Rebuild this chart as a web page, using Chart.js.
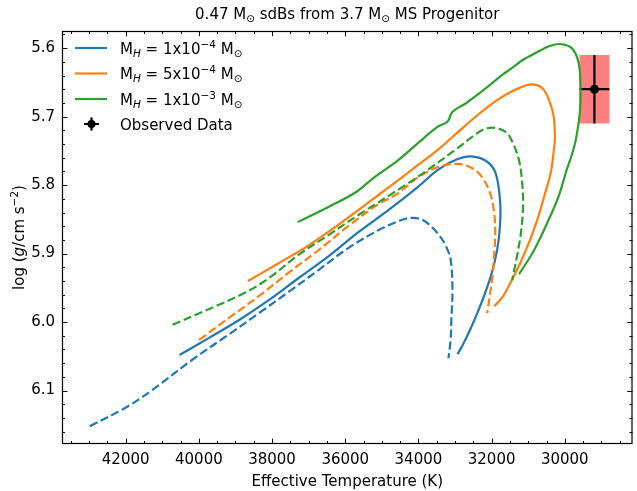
<!DOCTYPE html>
<html><head><meta charset="utf-8">
<script src="https://cdn.jsdelivr.net/npm/chart.js@4/dist/chart.umd.min.js"></script>
<style>html,body{margin:0;padding:0;background:#fff}#wrap{width:637px;height:491px;position:relative}</style>
</head><body><div id="wrap"><canvas id="c"></canvas></div>
<script>
// ---------- data ----------
const xTicks = [30000, 32000, 34000, 36000, 38000, 40000, 42000];
const yTicks = [5.6, 5.7, 5.8, 5.9, 6.0, 6.1];

const legendCoef = ['1x10', '5x10', '1x10'];
const legendExp = ['\u22124', '\u22124', '\u22123'];
const obsLabel = 'Observed Data';
const xTitle = 'Effective Temperature (K)';

// M_H = 1e-4 (blue)
const blueSolidTeff = [40530, 39720, 38900, 38090, 37280, 36460, 35650, 34830, 34020, 33480, 32930, 32580, 32170, 31900, 31770, 31770, 31850, 32010, 32230, 32470, 32720, 32930];
const blueSolidLogg = [6.048, 6.023, 5.997, 5.968, 5.936, 5.904, 5.869, 5.837, 5.803, 5.778, 5.762, 5.758, 5.764, 5.781, 5.822, 5.858, 5.895, 5.931, 5.965, 5.997, 6.026, 6.047];
const blueDashTeff = [42980, 41970, 41270, 40180, 39180, 38360, 37550, 36730, 35920, 35100, 34560, 34240, 33880, 33480, 33260, 33120, 33070, 33100, 33120, 33180];
const blueDashLogg = [6.152, 6.124, 6.099, 6.055, 6.018, 5.987, 5.956, 5.924, 5.892, 5.866, 5.853, 5.848, 5.851, 5.870, 5.888, 5.909, 5.953, 5.997, 6.026, 6.053];

// M_H = 5e-4 (orange)
const orangeSolidTeff = [38660, 37820, 37000, 36190, 35380, 34560, 34020, 33480, 32930, 32390, 31850, 31440, 31030, 30760, 30570, 30410, 30300, 30270, 30300, 30380, 30540, 30730, 30950, 31220, 31490, 31710, 31930];
const orangeSolidLogg = [5.940, 5.914, 5.888, 5.858, 5.826, 5.793, 5.771, 5.749, 5.723, 5.698, 5.676, 5.663, 5.654, 5.654, 5.661, 5.679, 5.701, 5.734, 5.749, 5.781, 5.812, 5.847, 5.880, 5.914, 5.943, 5.964, 5.977];
const orangeDashTeff = [39990, 39180, 38360, 37550, 36730, 35920, 35100, 34560, 34020, 33480, 33010, 32660, 32310, 32040, 31930, 31900, 31930, 31980, 32120];
const orangeDashLogg = [6.026, 5.994, 5.962, 5.928, 5.895, 5.860, 5.828, 5.812, 5.789, 5.774, 5.769, 5.772, 5.785, 5.812, 5.841, 5.870, 5.902, 5.934, 5.987];

// M_H = 1e-3 (green)
const greenSolidTeff = [37300, 36460, 35700, 35240, 34560, 34020, 33480, 33200, 33070, 32660, 32120, 31710, 31440, 31170, 30760, 30410, 30140, 29810, 29620, 29570, 29590, 29700, 29810, 29950, 30160, 30410, 30840, 31250];
const greenSolidLogg = [5.854, 5.832, 5.810, 5.790, 5.764, 5.739, 5.715, 5.707, 5.693, 5.679, 5.657, 5.639, 5.629, 5.618, 5.606, 5.597, 5.594, 5.600, 5.622, 5.661, 5.695, 5.734, 5.756, 5.778, 5.815, 5.847, 5.895, 5.930];
const greenDashTeff = [40720, 38770, 38090, 37280, 36460, 35650, 34560, 33750, 32930, 32390, 32120, 31850, 31580, 31390, 31250, 31170, 31140, 31190, 31300, 31440];
const greenDashLogg = [6.004, 5.958, 5.936, 5.902, 5.873, 5.844, 5.807, 5.778, 5.746, 5.724, 5.717, 5.717, 5.724, 5.742, 5.764, 5.793, 5.829, 5.866, 5.902, 5.939];

// observed
const obsTeff = [29190];
const obsLogg = [5.660];
const obsTeffErr = [410];
const obsLoggErr = [0.05];

// ---------- styles ----------
const COLORS = ['#1f77b4', '#ff7f0e', '#2ca02c'];
const FAM = '"DejaVu Sans", sans-serif';
const FS = 15;
function fnt(size, it) { return (it ? 'italic ' : '') + size + 'px ' + FAM; }

function pts(T, G) { return T.map((t, i) => ({x: t, y: G[i]})); }
function mk(T, G, color, dash) {
  return {data: pts(T, G), showLine: true, borderColor: color, backgroundColor: color,
    borderWidth: 2.2, borderDash: dash ? [8.4, 3.6] : [], pointRadius: 0, pointHoverRadius: 0,
    tension: 0.35, fill: false};
}

function drawRich(ctx, parts, x, y, size, align) {
  const small = size * 0.7;
  let w = 0;
  for (const p of parts) { ctx.font = fnt(p.sub || p.sup ? small : size, p.it); w += ctx.measureText(p.t).width; }
  let cx = align === 'center' ? x - w / 2 : x;
  ctx.textAlign = 'left'; ctx.textBaseline = 'alphabetic';
  for (const p of parts) {
    ctx.font = fnt(p.sub || p.sup ? small : size, p.it);
    const dy = p.sub ? size * 0.22 : (p.sup ? -size * 0.4 : 0);
    ctx.fillText(p.t, cx, y + dy);
    cx += ctx.measureText(p.t).width;
  }
}

const decor = {
  id: 'decor',
  beforeDatasetsDraw(chart) {
    const {ctx, scales: {x, y}} = chart;
    ctx.save();
    for (let i = 0; i < obsTeff.length; i++) {
      const x0 = x.getPixelForValue(obsTeff[i] - obsTeffErr[i]);
      const x1 = x.getPixelForValue(obsTeff[i] + obsTeffErr[i]);
      const y0 = y.getPixelForValue(obsLogg[i] - obsLoggErr[i]);
      const y1 = y.getPixelForValue(obsLogg[i] + obsLoggErr[i]);
      ctx.fillStyle = 'rgba(255,0,0,0.5)';
      ctx.fillRect(Math.min(x0, x1), Math.min(y0, y1), Math.abs(x1 - x0), Math.abs(y1 - y0));
      const cx = x.getPixelForValue(obsTeff[i]), cy = y.getPixelForValue(obsLogg[i]);
      ctx.strokeStyle = '#000'; ctx.lineWidth = 2.2;
      ctx.beginPath();
      ctx.moveTo(x0, cy); ctx.lineTo(x1, cy);
      ctx.moveTo(cx, y0); ctx.lineTo(cx, y1);
      ctx.stroke();
    }
    ctx.restore();
  },
  afterDraw(chart) {
    const {ctx, chartArea: a, scales: {x, y}} = chart;
    ctx.save();
    ctx.strokeStyle = '#000'; ctx.lineWidth = 1.2;
    ctx.strokeRect(a.left + 0.5, a.top + 0.5, a.right - a.left - 1, a.bottom - a.top - 1);
    ctx.lineWidth = 1;
    ctx.beginPath();
    for (let v = 28500; v <= 43500; v += 500) {
      const px = Math.round(x.getPixelForValue(v)) + 0.5;
      const len = (v % 2000 === 0) ? 5.3 : 3;
      ctx.moveTo(px, a.bottom); ctx.lineTo(px, a.bottom - len);
      ctx.moveTo(px, a.top); ctx.lineTo(px, a.top + len);
    }
    for (let i = 279; i <= 308; i++) {
      const v = i * 0.02;
      const py = Math.round(y.getPixelForValue(v)) + 0.5;
      const len = (i % 5 === 0) ? 5.3 : 3;
      ctx.moveTo(a.left, py); ctx.lineTo(a.left + len, py);
      ctx.moveTo(a.right, py); ctx.lineTo(a.right - len, py);
    }
    ctx.stroke();

    ctx.fillStyle = '#000';
    const cxa = (a.left + a.right) / 2, cya = (a.top + a.bottom) / 2;
    // title
    drawRich(ctx, [{t: '0.47 M'}, {t: '\u2299', sub: 1}, {t: ' sdBs from 3.7 M'}, {t: '\u2299', sub: 1}, {t: ' MS Progenitor'}], cxa, 19, FS, 'center');
    // x title
    drawRich(ctx, [{t: xTitle}], cxa, 486, FS, 'center');
    // y title
    ctx.save();
    ctx.translate(24, cya); ctx.rotate(-Math.PI / 2);
    drawRich(ctx, [{t: 'log ('}, {t: 'g', it: 1}, {t: '/cm s'}, {t: '\u22122', sup: 1}, {t: ')'}], 0, 0, FS, 'center');
    ctx.restore();

    // legend
    const rows = [48, 73.5, 99];
    for (let i = 0; i < 3; i++) {
      ctx.strokeStyle = COLORS[i]; ctx.lineWidth = 2.2;
      ctx.beginPath(); ctx.moveTo(75, rows[i]); ctx.lineTo(107, rows[i]); ctx.stroke();
      ctx.fillStyle = '#000';
      drawRich(ctx, [{t: 'M'}, {t: 'H', sub: 1, it: 1}, {t: ' = ' + legendCoef[i]}, {t: legendExp[i], sup: 1}, {t: ' M'}, {t: '\u2299', sub: 1}], 120, rows[i] + 5.5, FS, 'left');
    }
    const ly = 124, lx = 91.5;
    ctx.strokeStyle = '#000'; ctx.lineWidth = 2.2;
    ctx.beginPath(); ctx.moveTo(lx - 7.5, ly); ctx.lineTo(lx + 7.5, ly); ctx.moveTo(lx, ly - 6.5); ctx.lineTo(lx, ly + 6.5); ctx.stroke();
    ctx.fillStyle = '#000';
    ctx.beginPath(); ctx.arc(lx, ly, 4, 0, Math.PI * 2); ctx.fill();
    drawRich(ctx, [{t: obsLabel}], 120, ly + 5.5, FS, 'left');
    ctx.restore();
  }
};

const datasets = [
  mk(greenDashTeff, greenDashLogg, COLORS[2], true),
  mk(greenSolidTeff, greenSolidLogg, COLORS[2], false),
  mk(orangeDashTeff, orangeDashLogg, COLORS[1], true),
  mk(orangeSolidTeff, orangeSolidLogg, COLORS[1], false),
  mk(blueDashTeff, blueDashLogg, COLORS[0], true),
  mk(blueSolidTeff, blueSolidLogg, COLORS[0], false),
];
datasets.unshift({data: pts(obsTeff, obsLogg), showLine: false, pointRadius: 4.5, pointHoverRadius: 4.5,
  backgroundColor: '#000', borderColor: '#000', borderWidth: 0});

const tickFont = {family: FAM, size: FS};
new Chart(document.getElementById('c'), {
  type: 'scatter',
  data: {datasets},
  options: {
    responsive: true, maintainAspectRatio: false, animation: false,
    layout: {padding: {top: 31, right: 1, left: 0, bottom: 0}},
    plugins: {legend: {display: false}, tooltip: {enabled: false}, title: {display: false}},
    events: [],
    scales: {
      x: {type: 'linear', reverse: true, min: 28150, max: 43740,
        afterFit(s) { s.height = 47; },
        afterBuildTicks(s) { s.ticks = xTicks.map(v => ({value: v})); },
        grid: {display: false, drawTicks: false}, border: {display: false},
        ticks: {font: tickFont, color: '#000', padding: 7, autoSkip: false, maxRotation: 0, minRotation: 0, callback: v => String(v)}},
      y: {type: 'linear', reverse: true, min: 5.575, max: 6.178,
        afterFit(s) { s.width = 62; },
        afterBuildTicks(s) { s.ticks = yTicks.map(v => ({value: v})); },
        grid: {display: false, drawTicks: false}, border: {display: false},
        ticks: {font: tickFont, color: '#000', padding: 7, autoSkip: false, callback: v => Number(v).toFixed(1)}}
    }
  },
  plugins: [decor]
});
</script></body></html>
